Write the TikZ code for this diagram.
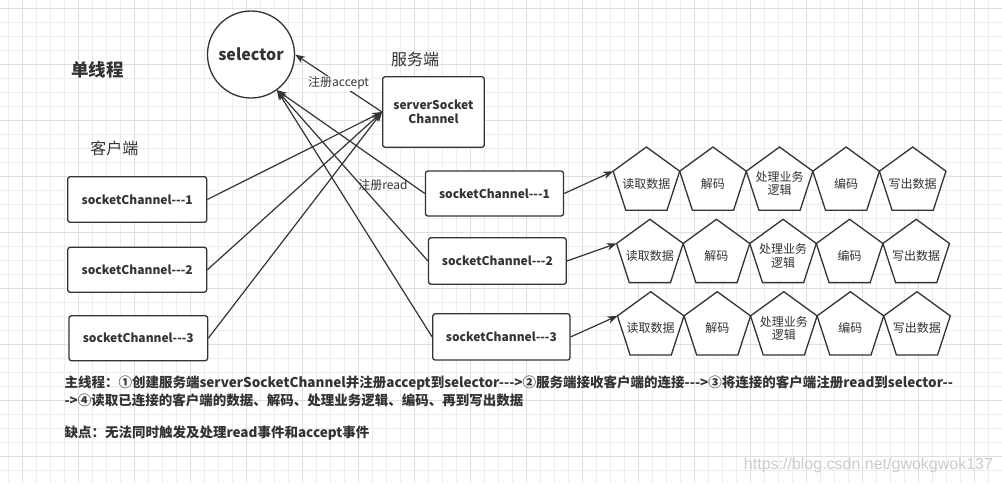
\documentclass[tikz,border=0pt]{standalone}
\usepackage{fontspec}
\setmainfont{Noto Sans CJK SC}[Ligatures=TeXOff]
\newfontfamily\wmfont{Liberation Sans}
\usetikzlibrary{shapes.geometric,arrows.meta}
\definecolor{ink}{HTML}{333333}
\definecolor{gridminor}{HTML}{EDEDED}
\definecolor{gridmajor}{HTML}{DEDEDE}
\begin{document}
\begin{tikzpicture}[x=1pt,y=-1pt,
  box/.style={draw=ink, line width=1.3pt, rounded corners=2.5pt, fill=white,
    font=\fontsize{12}{14.5}\selectfont\bfseries, text=ink, inner sep=0pt, align=center},
  penttext/.style={inner sep=0pt, font=\fontsize{12}{13.5}\selectfont, text=ink, align=center},
  pentline/.style={draw=ink, line width=1.3pt, fill=white, line join=miter},
  conn/.style={draw=ink, line width=1.2pt, -{Stealth[length=10pt,width=7.5pt]}},
  lbl/.style={font=\fontsize{12}{14}\selectfont, text=ink, inner sep=1pt},
  heading/.style={font=\fontsize{16}{18}\selectfont, text=ink, inner sep=0pt},
  note/.style={font=\fontsize{13.5}{17.3}\selectfont\bfseries, text=ink, inner sep=0pt, align=left}
]
\useasboundingbox (0,0) rectangle (1002,483);
\fill[white] (0,0) rectangle (1002,483);
% grid
\foreach \i in {0,...,71} \draw[gridminor, line width=0.9pt] ({8.7+14*\i},0) -- ({8.7+14*\i},483);
\foreach \i in {0,...,34} \draw[gridminor, line width=0.9pt] (0,{8.3+14*\i}) -- (1002,{8.3+14*\i});
\foreach \i in {0,...,17} \draw[gridmajor, line width=0.9pt] ({22.7+56*\i},0) -- ({22.7+56*\i},483);
\foreach \i in {0,...,8} \draw[gridmajor, line width=0.9pt] (0,{8.3+56*\i}) -- (1002,{8.3+56*\i});

% headings
\node[heading, font=\fontsize{17.5}{19}\selectfont\bfseries] (single) at (97.5,70) {单线程};
\node[heading] (server) at (415,59) {服务端};
\node[heading] (client) at (114.3,148) {客户端};

% selector
\node[circle, draw=ink, line width=1.3pt, fill=white, minimum size=87pt, inner sep=0pt,
  font=\fontsize{16}{18}\selectfont\bfseries, text=ink] (sel) at (251,54.5) {selector};

% server socket channel
\node[box, minimum width=101.6pt, minimum height=70.6pt] (ss) at (433.5,112) {serverSocket\\Channel};

% client socket channels
\node[box, minimum width=139pt, minimum height=45.6pt] (lb1) at (137.2,199.5) {socketChannel---1};
\node[box, minimum width=139pt, minimum height=45pt] (lb2) at (137.2,269.8) {socketChannel---2};
\node[box, minimum width=138.7pt, minimum height=45pt] (lb3) at (138.3,338.2) {socketChannel---3};

% accepted socket channels
\node[box, minimum width=138pt, minimum height=45pt] (rb1) at (494.5,193.5) {socketChannel---1};
\node[box, minimum width=137.7pt, minimum height=46.6pt] (rb2) at (497.4,261) {socketChannel---2};
\node[box, minimum width=137.3pt, minimum height=46.3pt] (rb3) at (501.4,336.9) {socketChannel---3};

% pentagons (circumradius 35)
\foreach \r/\x/\y in {1/646.4/182, 2/649.9/254.3, 3/650.7/326.7}{
  \foreach \k/\t in {1/读取数据, 2/解码, 3/{处理业务\\逻辑}, 4/编码, 5/写出数据}{
    \coordinate (c\r\k) at ({\x+(\k-1)*66.57},\y);
    \draw[pentline] ([shift={(90:35pt)}]c\r\k) -- ([shift={(162:35pt)}]c\r\k)
      -- ([shift={(234:35pt)}]c\r\k) -- ([shift={(306:35pt)}]c\r\k)
      -- ([shift={(18:35pt)}]c\r\k) -- cycle;
    \node[penttext] (p\r\k) at ([yshift=-1.5pt]c\r\k) {\t};
  }
  \coordinate (in\r) at ([shift={(162:35pt)}]c\r1);
}

% connectors
\draw[conn] (ss.west) -- node[lbl, fill=white] (lacc) {注册accept} (sel.east);
\draw[conn] (lb1.east) -- (ss.west);
\draw[conn] (lb2.east) -- (ss.west);
\draw[conn] (lb3.east) -- (ss.west);
\draw[conn] (rb1.west) -- (sel.-54);
\draw[conn] (rb2.west) -- (sel.-54);
\draw[conn] (rb3.west) -- (sel.-54);
\node[lbl] (lread) at (383,184.5) {注册read};
\draw[conn] (rb1.east) -- (in1);
\draw[conn] (rb2.east) -- (in2);
\draw[conn] (rb3.east) -- (in3);

% notes
\node[note, anchor=west] (flow) at (64.3,391.3) {主线程：①创建服务端serverSocketChannel并注册accept到selector--->②服务端接收客户端的连接--->③将连接的客户端注册read到selector--\\->④读取已连接的客户端的数据、解码、处理业务逻辑、编码、再到写出数据};
\node[note, anchor=west] (cons) at (64.3,433.3) {缺点：无法同时触发及处理read事件和accept事件};

% watermark
\node[font=\wmfont\fontsize{16}{18}\selectfont, text=black!20, inner sep=0pt] (wm) at (868.5,465) {https://blog.csdn.net/gwokgwok137};
\end{tikzpicture}
\end{document}
